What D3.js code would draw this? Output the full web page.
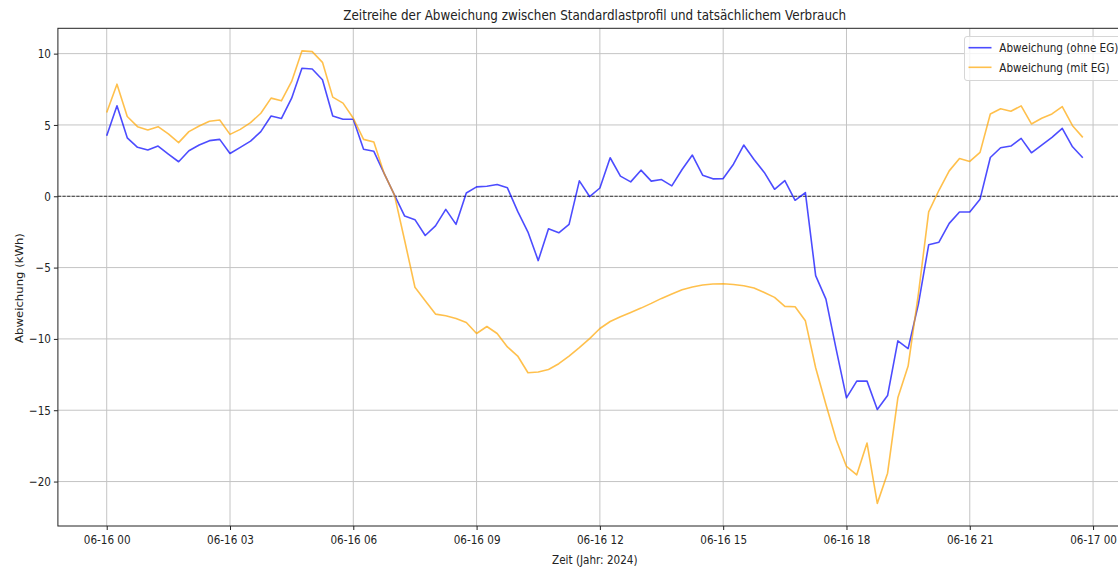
<!DOCTYPE html>
<html>
<head>
<meta charset="utf-8">
<script src="https://cdn.jsdelivr.net/npm/d3@7"></script>
<style>
  html, body { margin: 0; padding: 0; background: #fff; }
  svg { display: block; font-family: "DejaVu Sans", sans-serif; }
</style>
</head>
<body>
<svg id="chart" width="1118" height="568"></svg>
<script>
// ---- data (15-minute steps, 2024-06-16 00:00 .. 23:45) ----
const startUTC = Date.UTC(2024, 5, 16, 0, 0);
const stepMinutes = 15;

const ohneEG = [
  4.25, 6.34, 4.1, 3.43, 3.24, 3.52, 2.96, 2.42, 3.19, 3.59, 3.9, 3.99,
  3.0, 3.43, 3.87, 4.53, 5.63, 5.45, 6.88, 8.97, 8.92, 8.17, 5.63, 5.4,
  5.4, 3.3, 3.15, 1.6, 0.1, -1.39, -1.64, -2.75, -2.07, -0.92, -1.97, 0.23,
  0.66, 0.7, 0.82, 0.59, -1.06, -2.51, -4.51, -2.28, -2.56, -1.97, 1.08, -0.02,
  0.58, 2.7, 1.41, 1.01, 1.83, 1.06, 1.17, 0.73, 1.88, 2.89, 1.48, 1.22,
  1.24, 2.25, 3.59, 2.58, 1.67, 0.49, 1.1, -0.28, 0.26, -5.56, -7.21, -10.73,
  -14.13, -12.96, -12.96, -14.95, -13.97, -10.14, -10.68, -7.56, -3.4, -3.22, -1.9, -1.1,
  -1.1, -0.2, 2.72, 3.4, 3.52, 4.06, 3.05, 3.59, 4.13, 4.76, 3.47, 2.7
];

const mitEG = [
  5.87, 7.86, 5.59, 4.88, 4.65, 4.88, 4.37, 3.76, 4.53, 4.93, 5.26, 5.35,
  4.34, 4.69, 5.16, 5.82, 6.88, 6.69, 8.05, 10.19, 10.14, 9.39, 6.95, 6.53,
  5.47, 3.99, 3.8, 1.6, 0.1, -3.1, -6.38, -7.32, -8.26, -8.38, -8.57, -8.85,
  -9.62, -9.13, -9.62, -10.56, -11.2, -12.37, -12.32, -12.14, -11.74, -11.2, -10.61, -9.98,
  -9.27, -8.78, -8.45, -8.15, -7.84, -7.51, -7.16, -6.85, -6.55, -6.36, -6.22, -6.15,
  -6.13, -6.18, -6.27, -6.43, -6.74, -7.09, -7.72, -7.75, -8.73, -12.02, -14.6, -17.07,
  -18.94, -19.53, -17.3, -21.53, -19.41, -14.13, -11.9, -6.85, -1.1, 0.42, 1.78, 2.65,
  2.44, 3.08, 5.77, 6.13, 5.96, 6.34, 5.07, 5.47, 5.77, 6.29, 4.95, 4.13
];

const seriesNames = ["Abweichung (ohne EG)", "Abweichung (mit EG)"];
const seriesColors = ["blue", "orange"];

const xTickHours = [0, 3, 6, 9, 12, 15, 18, 21, 24];
const xTickLabels = ["06-16 00", "06-16 03", "06-16 06", "06-16 09", "06-16 12",
                     "06-16 15", "06-16 18", "06-16 21", "06-17 00"];
const yTicks = [-20, -15, -10, -5, 0, 5, 10];
const yTickLabels = ["\u221220", "\u221215", "\u221210", "\u22125", "0", "5", "10"];

const titleText = "Zeitreihe der Abweichung zwischen Standardlastprofil und tatsächlichem Verbrauch";
const xLabelText = "Zeit (Jahr: 2024)";
const yLabelText = "Abweichung (kWh)";

// ---- layout ----
const plot = { left: 57.9, right: 1131.6, top: 28.3, bottom: 526 };
const SX = 0.82;       // horizontal squeeze of the text
const FS = 12.7;       // tick / label font size

const times = ohneEG.map((_, i) => new Date(startUTC + i * stepMinutes * 60000));
const tStart = times[0], tEnd = times[times.length - 1];
const span = tEnd - tStart;

const x = d3.scaleUtc()
  .domain([new Date(+tStart - 0.05 * span), new Date(+tEnd + 0.05 * span)])
  .range([plot.left, plot.right]);

const all = ohneEG.concat(mitEG);
const yMin = d3.min(all), yMax = d3.max(all), yr = yMax - yMin;
const y = d3.scaleLinear()
  .domain([yMin - 0.05 * yr, yMax + 0.05 * yr])
  .range([plot.bottom, plot.top]);

const xTickDates = xTickHours.map(h => new Date(startUTC + h * 3600000));

const svg = d3.select("#chart");

// grid
const grid = svg.append("g").attr("class", "grid");
grid.selectAll("line.gx").data(xTickDates).join("line")
  .attr("x1", d => x(d)).attr("x2", d => x(d))
  .attr("y1", plot.top).attr("y2", plot.bottom)
  .attr("stroke", "#c4c4c4").attr("stroke-width", 1);
grid.selectAll("line.gy").data(yTicks).join("line")
  .attr("x1", plot.left).attr("x2", plot.right)
  .attr("y1", d => y(d)).attr("y2", d => y(d))
  .attr("stroke", "#c4c4c4").attr("stroke-width", 1);

// zero line
svg.append("line")
  .attr("x1", plot.left).attr("x2", plot.right)
  .attr("y1", y(0)).attr("y2", y(0))
  .attr("stroke", "#000").attr("stroke-opacity", 0.75)
  .attr("stroke-width", 1).attr("stroke-dasharray", "3.2,1.4");

// lines
const lineGen = d3.line().x((d, i) => x(times[i])).y(d => y(d));
[ohneEG, mitEG].forEach((s, k) => {
  svg.append("path").datum(s)
    .attr("fill", "none")
    .attr("stroke", seriesColors[k])
    .attr("stroke-opacity", 0.7)
    .attr("stroke-width", 1.6)
    .attr("stroke-linejoin", "round")
    .attr("d", lineGen);
});

// spines
svg.append("rect")
  .attr("x", plot.left).attr("y", plot.top)
  .attr("width", plot.right - plot.left).attr("height", plot.bottom - plot.top)
  .attr("fill", "none").attr("stroke", "#222").attr("stroke-width", 1);

// axes
const xAxis = d3.axisBottom(x).tickValues(xTickDates)
  .tickFormat((d, i) => xTickLabels[i]).tickSize(4).tickPadding(5);
const gx = svg.append("g").attr("transform", `translate(0,${plot.bottom})`).call(xAxis);
gx.select(".domain").remove();
gx.selectAll(".tick line").attr("stroke", "#222");
gx.selectAll(".tick text")
  .attr("font-size", FS).attr("fill", "#222")
  .attr("font-family", "DejaVu Sans")
  .attr("transform", `scale(${SX},1)`);

const yAxis = d3.axisLeft(y).tickValues(yTicks)
  .tickFormat((d, i) => yTickLabels[i]).tickSize(4).tickPadding(3);
const gy = svg.append("g").attr("transform", `translate(${plot.left},0)`).call(yAxis);
gy.select(".domain").remove();
gy.selectAll(".tick line").attr("stroke", "#222");
gy.selectAll(".tick text")
  .attr("font-size", FS).attr("fill", "#222")
  .attr("font-family", "DejaVu Sans")
  .attr("x", 0)
  .attr("transform", `translate(-7,0) scale(${SX},1)`);

// squeezed text helper
function sqText(px, py, txt, size, anchor, rot, sAlong) {
  const g = svg.append("g")
    .attr("transform", `translate(${px},${py})` + (rot ? ` rotate(${rot})` : "") +
      (rot ? ` scale(${sAlong || 1},${SX})` : ` scale(${SX},1)`));
  g.append("text").attr("x", 0).attr("y", 0)
    .attr("text-anchor", anchor).attr("font-size", size)
    .attr("fill", "#222").text(txt);
  return g;
}

// title
sqText((plot.left + plot.right) / 2, 20, titleText, 14.6, "middle");
// axis labels
sqText((plot.left + plot.right) / 2, 564, xLabelText, FS, "middle");
sqText(22.5, 288, yLabelText, FS, "middle", -90, 0.92);

// legend
const lg = svg.append("g");
lg.append("rect")
  .attr("x", 964.5).attr("y", 36.5).attr("width", 162).attr("height", 44)
  .attr("rx", 2.5).attr("fill", "#fff").attr("fill-opacity", 0.8)
  .attr("stroke", "#d6d6d6").attr("stroke-width", 1);
const legendY = [47.7, 67.3];
seriesNames.forEach((name, k) => {
  lg.append("line")
    .attr("x1", 968.5).attr("x2", 991.5)
    .attr("y1", legendY[k]).attr("y2", legendY[k])
    .attr("stroke", seriesColors[k]).attr("stroke-opacity", 0.7)
    .attr("stroke-width", 1.6);
  const t = lg.append("g").attr("transform", `translate(999.3,${legendY[k] + 4.5}) scale(${SX},1)`);
  t.append("text").attr("font-size", FS).attr("fill", "#222").text(name);
});
</script>
</body>
</html>
